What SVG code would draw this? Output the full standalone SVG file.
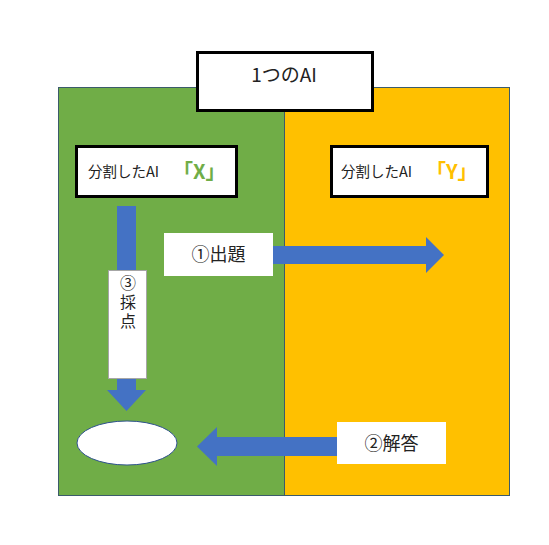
<svg xmlns="http://www.w3.org/2000/svg" width="549" height="545" viewBox="0 0 549 545">
<style>
text{font-family:"Noto Sans CJK JP","Noto Sans",sans-serif;fill:#222}
.box{fill:#fff;stroke:#000;stroke-width:3}
.lbl{fill:#fff}
.arrow{fill:#4472C4}
</style>
<rect width="549" height="545" fill="#fff"/>
<g id="left-area"><rect x="58.5" y="87.5" width="226" height="408" fill="#70AD47" stroke="#3B5B6B" stroke-width="1"/></g>
<g id="right-area"><rect x="284.5" y="87.5" width="225" height="408" fill="#FFC000" stroke="#3B5B6B" stroke-width="1"/></g>
<g id="connectors">
<path class="arrow" d="M117,206 H136 V390 H146 L126.5,411 L107,390 H117 Z"/>
<path class="arrow" d="M273,246 H426 V237 L444,255 L426,273 V264 H273 Z"/>
<path class="arrow" d="M337,437 H217 V427 L197,446.5 L217,466 V456 H337 Z"/>
</g>
<g id="title"><rect class="box" x="197.5" y="52.5" width="175" height="58"/><text x="284" y="82" font-size="19" text-anchor="middle">1つのAI</text></g>
<g id="ai-x"><rect class="box" x="76.5" y="146.5" width="160" height="50"/><text x="88" y="177" font-size="14.5">分割したAI</text><text x="173" y="179" font-size="20" font-weight="bold" style="fill:#70AD47">「X」</text></g>
<g id="ai-y"><rect class="box" x="331.5" y="146.5" width="156" height="50"/><text x="341" y="177" font-size="14.5">分割したAI</text><text x="426" y="179" font-size="20" font-weight="bold" style="fill:#FFC000">「Y」</text></g>
<g id="label-3"><rect x="108.5" y="270.5" width="38" height="108" fill="#fff" stroke="#A6A6A6" stroke-width="1"/><text x="128" y="275" font-size="16" style="writing-mode:vertical-rl;letter-spacing:3px">③採点</text></g>
<g id="label-1"><rect class="lbl" x="164" y="233" width="109" height="43"/><text x="218.5" y="261" font-size="18" text-anchor="middle">①出題</text></g>
<g id="label-2"><rect class="lbl" x="337" y="422" width="109" height="42"/><text x="391.5" y="450" font-size="18" text-anchor="middle">②解答</text></g>
<g id="result"><ellipse cx="127" cy="443" rx="50" ry="22" fill="#fff" stroke="#2F528F" stroke-width="1"/></g>
</svg>
